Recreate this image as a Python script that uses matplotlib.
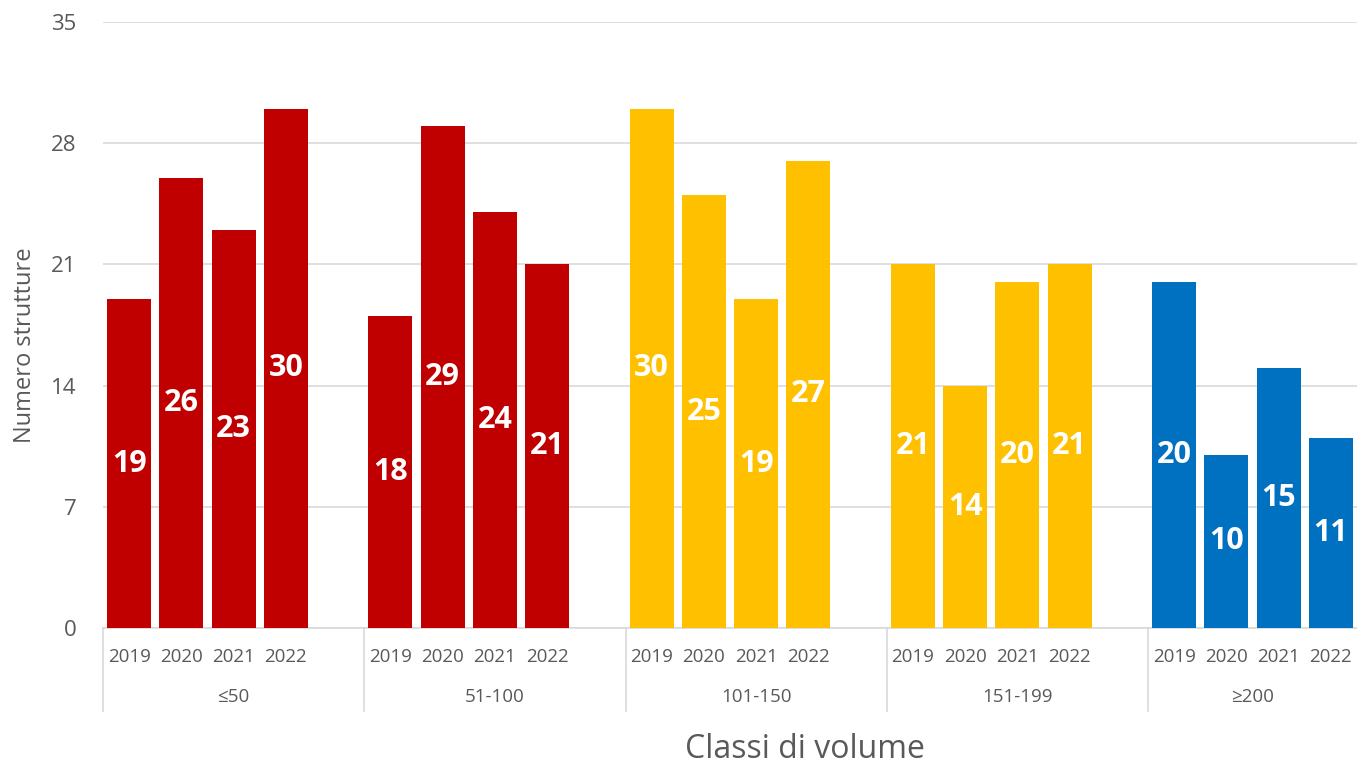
import matplotlib
matplotlib.use("Agg")
import matplotlib.pyplot as plt
import matplotlib.transforms as mtransforms

groups = ["≤50", "51-100", "101-150", "151-199", "≥200"]
years = ["2019", "2020", "2021", "2022"]
values = {
    "≤50": [19, 26, 23, 30],
    "51-100": [18, 29, 24, 21],
    "101-150": [30, 25, 19, 27],
    "151-199": [21, 14, 20, 21],
    "≥200": [20, 10, 15, 11],
}
group_colors = ["#C00000", "#C00000", "#FFC000", "#FFC000", "#0070C0"]
yticks = [0, 7, 14, 21, 28, 35]

plt.rcParams['font.family'] = ['Open Sans', 'DejaVu Sans']
txt = "#595959"

W, H = 1357, 764
fig = plt.figure(figsize=(W / 100, H / 100), dpi=100)
ax = fig.add_axes([103 / W, 1 - 628 / H, (1357 - 103) / W, (628 - 22) / H])

bar_w = 0.84
for g, grp in enumerate(groups):
    xs = [5 * g + j for j in range(len(years))]
    vals = values[grp]
    ax.bar(xs, vals, width=bar_w, color=group_colors[g], zorder=3)
    for x, v in zip(xs, vals):
        ax.text(x, v / 2, str(v), ha="center", va="center", color="white",
                fontsize=22, fontweight="bold", zorder=4)

ax.set_xlim(-0.5, 23.5)
ax.set_ylim(0, 35)
ax.set_yticks(yticks)
ax.set_yticklabels([str(t) for t in yticks], fontsize=16, color=txt)
ax.tick_params(axis="y", length=0, pad=19)
ax.set_xticks([])
ax.grid(axis="y", color="#D9D9D9", linewidth=1.2, zorder=0)
for s in ["top", "right", "left"]:
    ax.spines[s].set_visible(False)
ax.spines["bottom"].set_color("#D9D9D9")
ax.spines["bottom"].set_linewidth(1.2)

trans = mtransforms.blended_transform_factory(ax.transData, ax.transAxes)
sep_bottom = -(711 - 628) / 606
for g in range(len(groups)):
    xsep = 5 * g - 0.5
    ax.plot([xsep, xsep], [0, sep_bottom], transform=trans, color="#D9D9D9",
            linewidth=1.2, clip_on=False)
    for j, yr in enumerate(years):
        ax.text(5 * g + j, -(657 - 628) / 606, yr, transform=trans, ha="center",
                va="center", fontsize=13.5, color=txt)
    gc = 5 * g + 2 if g < len(groups) - 1 else 5 * g + 1.5
    ax.text(gc, -(697 - 628) / 606, groups[g], transform=trans, ha="center",
            va="center", fontsize=13.5, color=txt)

fig.text(805 / W, 1 - 749 / H, "Classi di volume", ha="center", va="center",
         fontsize=23, color=txt)
fig.text(25 / W, 1 - 345 / H, "Numero strutture", ha="center", va="center",
         rotation=90, fontsize=17, color=txt)

fig.savefig("out.png", dpi=100)
